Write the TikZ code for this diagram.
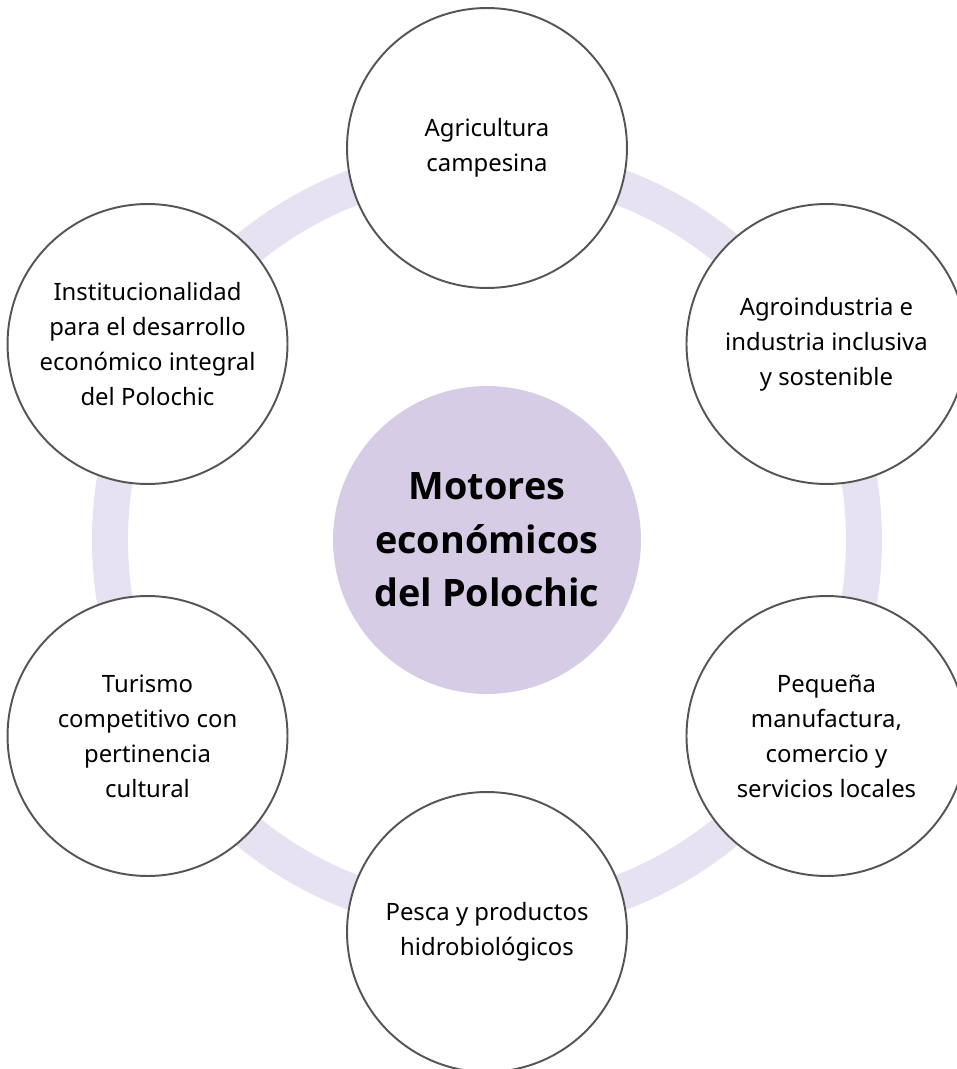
\documentclass[tikz,border=0pt]{standalone}
\usepackage{fontspec}
\setmainfont{Noto Sans}
\newfontfamily\corefont{Open Sans}
\usepackage{tikz}
\usetikzlibrary{positioning}
\usepackage{xcolor}
\definecolor{fring}{HTML}{E6E2F1}
\definecolor{fcore}{HTML}{D6CCE6}
\definecolor{fedge}{HTML}{555555}
\tikzset{
  motor/.style = {draw=fedge, line width=1.1pt, circle, fill=white,
                  minimum size=5.6cm, inner sep=0pt, align=center,
                  font=\fontsize{13.6pt}{19.9pt}\selectfont},
  core/.style  = {circle, fill=fcore, minimum size=6.16cm, inner sep=0pt,
                  align=center, font=\corefont\bfseries\fontsize{21.5pt}{30.5pt}\selectfont},
  ring/.style  = {draw=fring, line width=0.72cm},
}

\begin{document}
\begin{tikzpicture}[x=0.02cm,y=0.02cm]
\useasboundingbox (-487,-529) rectangle (470,540);
% ring behind
\draw[ring] (0,0) circle[radius=377];
% centre
\node[core] (motores) at (0,0) {Motores\\econ\'omicos\\del Polochic};
% drivers
\node[motor] (agri) at (90:392)  {Agricultura\\campesina};
\node[motor] (agro) at (30:392)  {Agroindustria e\\industria inclusiva\\y sostenible};
\node[motor] (manu) at (-30:392) {Peque\~na\\manufactura,\\comercio y\\servicios locales};
\node[motor] (pesca) at (-90:392) {Pesca y productos\\hidrobiol\'ogicos};
\node[motor] (turismo) at (210:392) {Turismo\\competitivo con\\pertinencia\\cultural};
\node[motor] (inst) at (150:392) {Institucionalidad\\para el desarrollo\\econ\'omico integral\\del Polochic};
\end{tikzpicture}
\end{document}
